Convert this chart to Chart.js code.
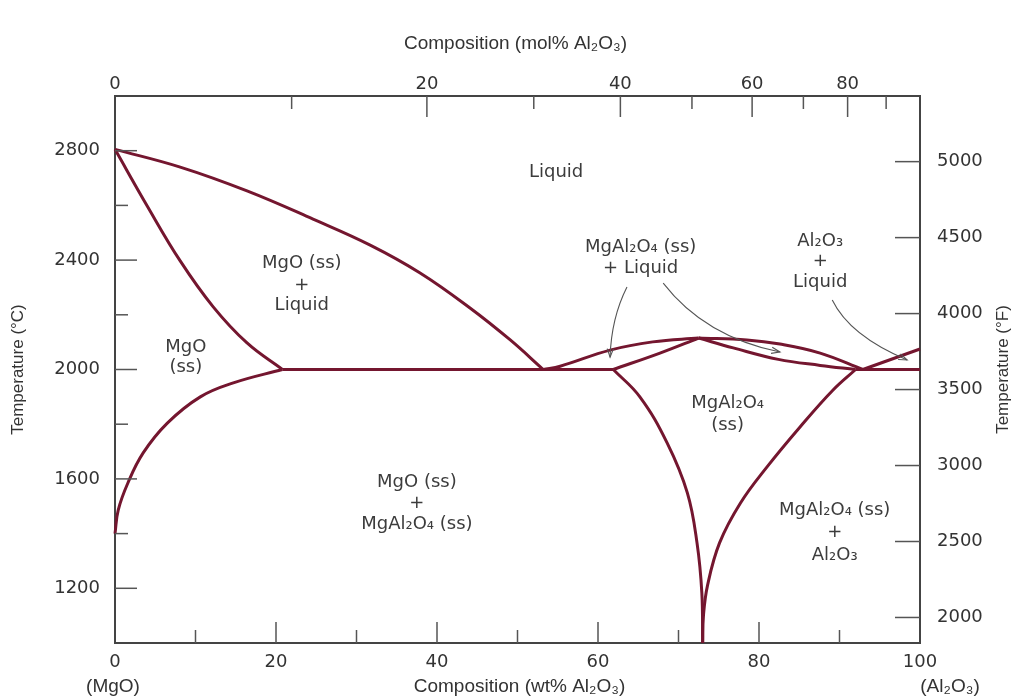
<!DOCTYPE html>
<html>
<head>
<meta charset="utf-8">
<title>MgO - Al2O3 phase diagram</title>
<script src="https://cdn.jsdelivr.net/npm/chart.js@4.4.1/dist/chart.umd.min.js"></script>
<style>
  html, body { margin: 0; padding: 0; background: #fff; }
</style>
</head>
<body>
<canvas id="phaseChart" width="1012" height="698"></canvas>
<script>
// Axis ticks
const wtTicks = [0, 20, 40, 60, 80, 100];
const wtMinorTicks = [10, 30, 50, 70, 90];
const molLabelTicks = [0, 20, 40, 60, 80];
const molMinorTicks = [10, 30, 50, 70, 90];
const tempTicksC = [1200, 1600, 2000, 2400, 2800];
const tempMinorC = [1400, 1800, 2200, 2600];
const tempTicksF = [2000, 2500, 3000, 3500, 4000, 4500, 5000];

// Phase boundaries, [wt% Al2O3, temperature °C]
const liquidusMgO = [[0, 2805], [8.1, 2740], [16.4, 2653], [24.6, 2550], [31.7, 2455], [37.9, 2353], [44.1, 2225], [49.1, 2108], [53.2, 2000]];
const solidusMgO = [[0, 2805], [4.0, 2598], [8.1, 2397], [12.2, 2229], [16.4, 2097], [20.8, 2000]];
const solvusMgO = [[20.8, 2000], [14.7, 1951], [10.6, 1900], [6.5, 1804], [3.5, 1695], [1.6, 1585], [0.4, 1486], [0, 1400]];
const eutecticLeft = [[20.8, 2000], [61.9, 2000]];
const liquidusSpinelL = [[53.2, 2000], [55.3, 2012], [61.5, 2071], [66.8, 2101], [72.5, 2115]];
const liquidusSpinelR = [[72.5, 2115], [78.5, 2108], [82.6, 2093], [87.6, 2060], [92.9, 2000]];
const solidusSpinelL = [[61.9, 2000], [67.7, 2060], [72.5, 2115]];
const solidusSpinelR = [[72.5, 2115], [76.8, 2079], [82.4, 2037], [87.6, 2015], [92.0, 2000]];
const eutecticRight = [[92.0, 2000], [100, 2000]];
const liquidusAl2O3 = [[92.9, 2000], [100, 2075]];
const solvusSpinelL = [[61.9, 2000], [65.2, 1900], [68.6, 1731], [71.1, 1549], [72.3, 1366], [72.9, 1183], [73.0, 1000]];
const solvusSpinelR = [[92.0, 2000], [89.2, 1925], [85.1, 1790], [81.0, 1644], [77.7, 1512], [75.1, 1366], [73.6, 1210], [73.1, 1100], [73.0, 1000]];

const boundaries = [liquidusMgO, solidusMgO, solvusMgO, eutecticLeft, liquidusSpinelL, liquidusSpinelR,
  solidusSpinelL, solidusSpinelR, eutecticRight, liquidusAl2O3, solvusSpinelL, solvusSpinelR];

// Region labels: text lines and [wt%, °C] of each line centre
const regionLabels = [
  { lines: ['Liquid'], at: [[54.8, 2722]] },
  { lines: ['MgO (ss)', '+', 'Liquid'], at: [[23.2, 2389], [23.2, 2309], [23.2, 2236]] },
  { lines: ['MgO', '(ss)'], at: [[8.8, 2082], [8.8, 2009]] },
  { lines: ['MgAl₂O₄ (ss)', '+ Liquid'], at: [[65.3, 2448], [65.3, 2371]] },
  { lines: ['Al₂O₃', '+', 'Liquid'], at: [[87.6, 2468], [87.6, 2395], [87.6, 2318]] },
  { lines: ['MgAl₂O₄', '(ss)'], at: [[76.1, 1878], [76.1, 1797]] },
  { lines: ['MgO (ss)', '+', 'MgAl₂O₄ (ss)'], at: [[37.5, 1589], [37.5, 1512], [37.5, 1435]] },
  { lines: ['MgAl₂O₄ (ss)', '+', 'Al₂O₃'], at: [[89.4, 1486], [89.4, 1406], [89.4, 1320]] }
];

// Pointer arrows: start, middle, tip in [wt%, °C]
const arrowPaths = [
  [[63.6, 2302], [62.1, 2181], [61.5, 2045]],
  [[68.1, 2316], [74.3, 2155], [82.6, 2064]],
  [[89.1, 2254], [92.5, 2134], [98.4, 2035]]
];

const lineColor = '#74162f';
const axisColor = '#444';
const tickFont = { family: 'DejaVu Sans', size: 18 };

// mol% Al2O3 -> wt% Al2O3 (M Al2O3 = 101.96, M MgO = 40.30)
function molToWt(m) {
  const a = m * 101.96, b = (100 - m) * 40.30;
  return 100 * a / (a + b);
}
function cToF(c) { return c * 1.8 + 32; }

const decorPlugin = {
  id: 'phaseDecor',
  afterDatasetsDraw(chart) {
    const { ctx, chartArea: area, scales } = chart;
    const xs = scales.x, ys = scales.y, yf = scales.yF;
    ctx.save();

    // inward tick marks
    ctx.strokeStyle = '#555';
    ctx.lineWidth = 1.5;
    const seg = (x1, y1, x2, y2) => { ctx.beginPath(); ctx.moveTo(x1, y1); ctx.lineTo(x2, y2); ctx.stroke(); };
    tempTicksC.forEach(v => { const p = ys.getPixelForValue(v); seg(area.left, p, area.left + 22, p); });
    tempMinorC.forEach(v => { const p = ys.getPixelForValue(v); seg(area.left, p, area.left + 13, p); });
    tempTicksF.forEach(v => { const p = yf.getPixelForValue(v); seg(area.right, p, area.right - 25, p); });
    wtTicks.slice(1, -1).forEach(v => { const p = xs.getPixelForValue(v); seg(p, area.bottom, p, area.bottom - 21); });
    wtMinorTicks.forEach(v => { const p = xs.getPixelForValue(v); seg(p, area.bottom, p, area.bottom - 13); });
    molLabelTicks.slice(1).forEach(m => { const p = xs.getPixelForValue(molToWt(m)); seg(p, area.top, p, area.top + 21); });
    molMinorTicks.forEach(m => { const p = xs.getPixelForValue(molToWt(m)); seg(p, area.top, p, area.top + 13); });

    // arrows
    ctx.strokeStyle = '#555';
    ctx.lineWidth = 1.1;
    arrowPaths.forEach(path => {
      const [p0, pm, p2] = path.map(([w, t]) => [xs.getPixelForValue(w), ys.getPixelForValue(t)]);
      const cx = 2 * pm[0] - (p0[0] + p2[0]) / 2, cy = 2 * pm[1] - (p0[1] + p2[1]) / 2;
      ctx.beginPath();
      ctx.moveTo(p0[0], p0[1]);
      ctx.quadraticCurveTo(cx, cy, p2[0], p2[1]);
      ctx.stroke();
      const ang = Math.atan2(p2[1] - cy, p2[0] - cx);
      ctx.beginPath();
      ctx.moveTo(p2[0] - 9 * Math.cos(ang - 0.35), p2[1] - 9 * Math.sin(ang - 0.35));
      ctx.lineTo(p2[0], p2[1]);
      ctx.lineTo(p2[0] - 9 * Math.cos(ang + 0.35), p2[1] - 9 * Math.sin(ang + 0.35));
      ctx.stroke();
    });

    // region labels
    ctx.fillStyle = '#3c3c3c';
    ctx.font = '18px "DejaVu Sans"';
    ctx.textAlign = 'center';
    ctx.textBaseline = 'middle';
    regionLabels.forEach(lbl => {
      lbl.lines.forEach((txt, i) => {
        ctx.fillText(txt, xs.getPixelForValue(lbl.at[i][0]), ys.getPixelForValue(lbl.at[i][1]));
      });
    });

    // axis titles
    ctx.fillStyle = '#333';
    ctx.font = '19px "Liberation Sans"';
    const midX = (area.left + area.right) / 2;
    ctx.fillText('Composition (mol% Al₂O₃)', midX - 2, 44);
    ctx.fillText('Composition (wt% Al₂O₃)', midX + 2, 687);
    ctx.fillText('(MgO)', area.left - 2, 687);
    ctx.fillText('(Al₂O₃)', area.right + 30, 687);
    ctx.font = '17px "Liberation Sans"';
    const midY = (area.top + area.bottom) / 2;
    [[18, 'Temperature (°C)'], [1003, 'Temperature (°F)']].forEach(([x, txt]) => {
      ctx.save();
      ctx.translate(x, midY);
      ctx.rotate(-Math.PI / 2);
      ctx.fillText(txt, 0, 0);
      ctx.restore();
    });
    ctx.restore();
  }
};

const baseGrid = { display: false, drawOnChartArea: false, drawTicks: false };
const baseBorder = { display: true, color: axisColor, width: 2 };
const plainNum = v => String(v);

new Chart(document.getElementById('phaseChart'), {
  type: 'scatter',
  data: {
    datasets: boundaries.map(pts => ({
      data: pts.map(([x, y]) => ({ x, y })),
      showLine: true,
      borderColor: lineColor,
      borderWidth: 3,
      pointRadius: 0,
      tension: 0.4,
      clip: 6,
      xAxisID: 'x',
      yAxisID: 'y'
    }))
  },
  options: {
    responsive: false,
    animation: false,
    layout: { padding: 0 },
    plugins: { legend: { display: false }, tooltip: { enabled: false } },
    scales: {
      x: {
        type: 'linear', position: 'bottom', min: 0, max: 100,
        afterFit: s => { s.height = 55; },
        afterBuildTicks: s => { s.ticks = wtTicks.map(v => ({ value: v })); },
        ticks: { font: tickFont, color: '#333', padding: 9, maxRotation: 0, autoSkip: false, callback: plainNum },
        grid: baseGrid, border: baseBorder
      },
      xTop: {
        type: 'linear', position: 'top', min: 0, max: 100,
        afterFit: s => { s.height = 96; },
        afterBuildTicks: s => { s.ticks = molLabelTicks.map(m => ({ value: molToWt(m) })); },
        ticks: {
          font: tickFont, color: '#333', padding: 1, maxRotation: 0, autoSkip: false,
          callback: (v, i) => String(molLabelTicks[i])
        },
        grid: baseGrid, border: baseBorder
      },
      y: {
        type: 'linear', position: 'left', min: 1000, max: 3000,
        afterFit: s => { s.width = 115; },
        afterBuildTicks: s => { s.ticks = tempTicksC.map(v => ({ value: v })); },
        ticks: { font: tickFont, color: '#333', padding: 15, autoSkip: false, callback: plainNum },
        grid: baseGrid, border: baseBorder
      },
      yF: {
        type: 'linear', position: 'right', min: cToF(1000), max: cToF(3000),
        afterFit: s => { s.width = 92; },
        afterBuildTicks: s => { s.ticks = tempTicksF.map(v => ({ value: v })); },
        ticks: { font: tickFont, color: '#333', padding: 17, autoSkip: false, callback: plainNum },
        grid: baseGrid, border: baseBorder
      }
    }
  },
  plugins: [decorPlugin]
});
</script>
</body>
</html>
